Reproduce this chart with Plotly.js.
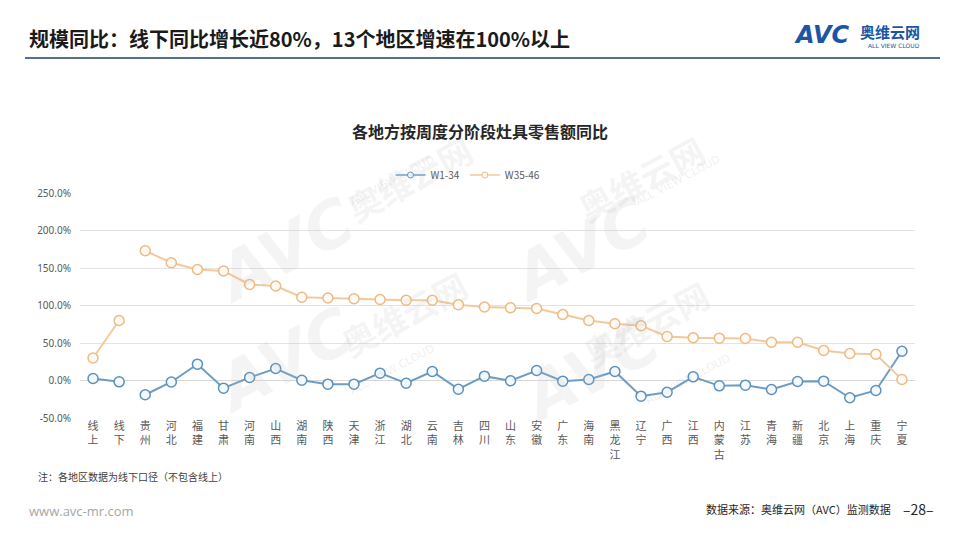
<!DOCTYPE html>
<html>
<head>
<meta charset="utf-8">
<script src="https://cdn.plot.ly/plotly-3.0.1.min.js"></script>
<style>
html,body{margin:0;padding:0;background:#fff;}
#chart{width:960px;height:540px;}
</style>
</head>
<body>
<div id="chart"></div>
<script>
const regions = ["线上","线下","贵州","河北","福建","甘肃","河南","山西","湖南","陕西","天津","浙江","湖北","云南","吉林","四川","山东","安徽","广东","海南","黑龙江","辽宁","广西","江西","内蒙古","江苏","青海","新疆","北京","上海","重庆","宁夏"];
const w1_34 = [2.7,-1.8,-19,-2,21.8,-10.2,4,16,0.4,-4.9,-4.9,9.8,-3.6,12,-11.6,5.8,-0.4,13.3,-0.9,1.3,12,-20.9,-15.6,4.9,-7.1,-6.2,-12,-1.3,-0.9,-23,-13.3,39];
const w35_46 = [30,80,173,157,148,146,128,126,111,110,109,108,107,107,101,98,97,96,88,80,75.6,73,58.7,57,56.5,56,51,51,40,36,35,1.3];
const seriesNames = ["W1-34","W35-46"];
const yTicks = [-50,0,50,100,150,200,250];

const cjk = '"Noto Sans CJK SC", "Noto Sans", sans-serif';
const tickText = regions.map(r => r.split('').join('<br>'));

const blue = {line:'#6d9cc4', mline:'#5d90bb', fill:'#f3f9fd'};
const orange = {line:'#f3c99c', mline:'#ebbb85', fill:'#fffaf3'};

function mk(xs, ys, name, c){
  return {
    type:'scatter', mode:'lines+markers', x:xs, y:ys, name:name,
    legendgroup:name, showlegend:false,
    line:{color:c.line, width:2},
    marker:{size:10, color:c.fill, line:{color:c.mline, width:1.5}},
    hoverinfo:'skip'
  };
}
function legendOnly(name, c){
  return {
    type:'scatter', mode:'lines+markers', x:[null], y:[null], name:name,
    legendgroup:name, showlegend:true,
    line:{color:c.line, width:1.5},
    marker:{size:6, color:c.fill, line:{color:c.mline, width:1}},
    hoverinfo:'skip'
  };
}
const split = 2;
const traces = [
  mk(regions.slice(0,split), w1_34.slice(0,split), seriesNames[0], blue),
  mk(regions.slice(split), w1_34.slice(split), seriesNames[0], blue),
  mk(regions.slice(0,split), w35_46.slice(0,split), seriesNames[1], orange),
  mk(regions.slice(split), w35_46.slice(split), seriesNames[1], orange),
  legendOnly(seriesNames[0], blue),
  legendOnly(seriesNames[1], orange)
];

const wm = 'rgba(185,185,185,0.16)';
const wmS = 'rgba(185,185,185,0.22)';
function px(x){return (x-80)/835;}
function py(y){return 1+(193-y)/225;}
const annotations = [
  {text:'规模同比：线下同比增长近80%，13个地区增速在100%以上', xref:'paper', yref:'paper', x:px(27), y:py(38), xanchor:'left', yanchor:'middle', showarrow:false, font:{family:cjk, size:20, color:'#1a1a1a', weight:700}},
  {text:'各地方按周度分阶段灶具零售额同比', xref:'paper', yref:'paper', x:px(480), y:py(131), xanchor:'center', yanchor:'middle', showarrow:false, font:{family:cjk, size:16, color:'#262626', weight:700}},
  {text:'注：各地区数据为线下口径（不包含线上）', xref:'paper', yref:'paper', x:px(36), y:py(476), xanchor:'left', yanchor:'middle', showarrow:false, font:{family:cjk, size:10, color:'#404040'}},
  {text:'www.avc-mr.com', xref:'paper', yref:'paper', x:px(27), y:py(511), xanchor:'left', yanchor:'middle', showarrow:false, font:{family:'"Open Sans", sans-serif', size:13, color:'#a6a6a6'}},
  {text:'数据来源：奥维云网（AVC）监测数据', xref:'paper', yref:'paper', x:px(893), y:py(509), xanchor:'right', yanchor:'middle', showarrow:false, font:{family:cjk, size:11, color:'#262626'}},
  {text:'–28–', xref:'paper', yref:'paper', x:px(936), y:py(509), xanchor:'right', yanchor:'middle', showarrow:false, font:{family:cjk, size:14, color:'#262626'}},
  {text:'<i><b>AVC</b></i>', xref:'paper', yref:'paper', x:px(792), y:py(35), xanchor:'left', yanchor:'middle', showarrow:false, font:{family:'"DejaVu Sans", sans-serif', size:24, color:'#1d55a5'}},
  {text:'<b>奥维云网</b>', xref:'paper', yref:'paper', x:px(858), y:py(31), xanchor:'left', yanchor:'middle', showarrow:false, font:{family:cjk, size:15, color:'#1d55a5'}},
  {text:'ALL VIEW CLOUD', xref:'paper', yref:'paper', x:px(866), y:py(45), xanchor:'left', yanchor:'middle', showarrow:false, font:{family:'"DejaVu Sans", sans-serif', size:6, color:'#1d55a5'}},
  // watermarks
  {text:'<b><i>AVC</i></b>', xref:'paper', yref:'paper', x:px(200), y:py(180), showarrow:false, textangle:-28, font:{family:'"DejaVu Sans", sans-serif', size:64, color:wm}},
  {text:'<b>奥维云网</b>', xref:'paper', yref:'paper', x:px(335), y:py(122), showarrow:false, textangle:-28, font:{family:cjk, size:34, color:wm}},
  {text:'ALL VIEW CLOUD', xref:'paper', yref:'paper', x:px(345), y:py(150), showarrow:false, textangle:-28, font:{family:'"DejaVu Sans", sans-serif', size:11, color:wmS}},
  {text:'<b><i>AVC</i></b>', xref:'paper', yref:'paper', x:px(580), y:py(180), showarrow:false, textangle:-28, font:{family:'"DejaVu Sans", sans-serif', size:64, color:wm}},
  {text:'<b>奥维云网</b>', xref:'paper', yref:'paper', x:px(715), y:py(122), showarrow:false, textangle:-28, font:{family:cjk, size:34, color:wm}},
  {text:'ALL VIEW CLOUD', xref:'paper', yref:'paper', x:px(725), y:py(150), showarrow:false, textangle:-28, font:{family:'"DejaVu Sans", sans-serif', size:11, color:wmS}},
  {text:'<b><i>AVC</i></b>', xref:'paper', yref:'paper', x:px(200), y:py(430), showarrow:false, textangle:-28, font:{family:'"DejaVu Sans", sans-serif', size:64, color:wm}},
  {text:'<b>奥维云网</b>', xref:'paper', yref:'paper', x:px(330), y:py(370), showarrow:false, textangle:-28, font:{family:cjk, size:34, color:wm}},
  {text:'ALL VIEW CLOUD', xref:'paper', yref:'paper', x:px(345), y:py(400), showarrow:false, textangle:-28, font:{family:'"DejaVu Sans", sans-serif', size:11, color:wmS}},
  {text:'<b><i>AVC</i></b>', xref:'paper', yref:'paper', x:px(590), y:py(440), showarrow:false, textangle:-28, font:{family:'"DejaVu Sans", sans-serif', size:64, color:wm}},
  {text:'<b>奥维云网</b>', xref:'paper', yref:'paper', x:px(720), y:py(380), showarrow:false, textangle:-28, font:{family:cjk, size:34, color:wm}},
  {text:'ALL VIEW CLOUD', xref:'paper', yref:'paper', x:px(735), y:py(410), showarrow:false, textangle:-28, font:{family:'"DejaVu Sans", sans-serif', size:11, color:wmS}}
];

const layout = {
  width:960, height:540,
  margin:{l:80, r:45, t:193, b:122},
  paper_bgcolor:'#ffffff', plot_bgcolor:'rgba(0,0,0,0)',
  font:{family:cjk, color:'#595959'},
  showlegend:true,
  legend:{orientation:'h', x:px(468), xanchor:'center', y:py(175), yanchor:'middle', font:{family:cjk, size:10, color:'#595959'}, traceorder:'normal', bgcolor:'rgba(0,0,0,0)', itemwidth:30},
  xaxis:{type:'category', categoryorder:'array', categoryarray:regions, range:[-0.5, regions.length-0.5], autorange:false, tickmode:'array', tickvals:regions, ticktext:tickText, tickangle:0, tickfont:{family:cjk, size:11, color:'#595959'}, showgrid:false, showline:false, zeroline:false, ticks:'', fixedrange:true},
  yaxis:{range:[-50,250], autorange:false, tickmode:'array', tickvals:yTicks, ticktext:yTicks.map(v=>v.toFixed(1)+'%'), tickfont:{family:'"Noto Sans", sans-serif', size:10, color:'#595959'}, showgrid:true, gridcolor:'#e3e3e3', gridwidth:1, zeroline:true, zerolinecolor:'#d9d9d9', zerolinewidth:1, showline:false, ticks:'', ticklabelstandoff:8, layer:'below traces'},
  shapes:[
    {type:'line', xref:'paper', yref:'paper', x0:px(25), x1:px(940), y0:py(58), y1:py(58), line:{color:'#1f3c6e', width:1.5}}
  ],
  annotations:annotations
};

Plotly.newPlot('chart', traces, layout, {staticPlot:true, displayModeBar:false});
</script>
</body>
</html>
